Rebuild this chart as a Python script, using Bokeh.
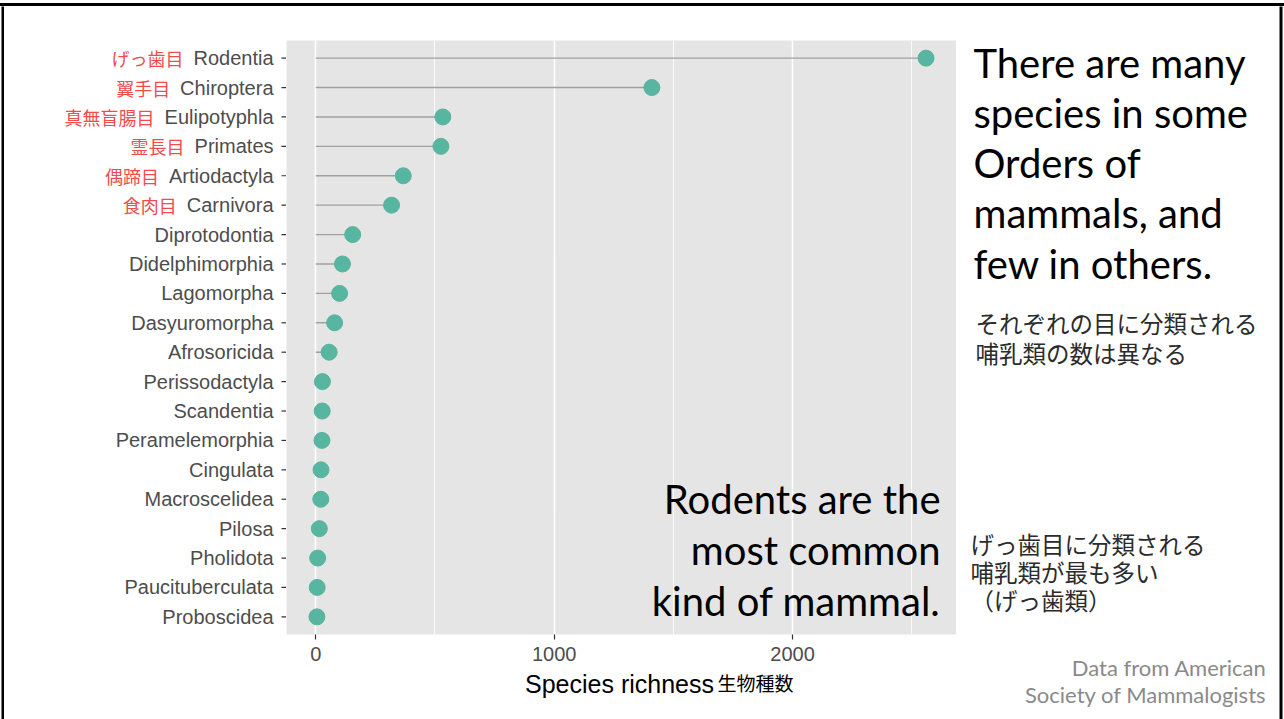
from bokeh.plotting import figure
from bokeh.layouts import row, column
from bokeh.models import ColumnDataSource, FactorRange, Range1d, Label, SingleIntervalTicker, Spacer
from bokeh.core.properties import value
from bokeh.embed import file_html
from bokeh.resources import INLINE

# Mammal orders, most species-rich first
orders = [
    "Rodentia", "Chiroptera", "Eulipotyphla", "Primates", "Artiodactyla",
    "Carnivora", "Diprotodontia", "Didelphimorphia", "Lagomorpha",
    "Dasyuromorpha", "Afrosoricida", "Perissodactyla", "Scandentia",
    "Peramelemorphia", "Cingulata", "Macroscelidea", "Pilosa", "Pholidota",
    "Paucituberculata", "Proboscidea",
]
orders_ja = ["げっ歯目", "翼手目", "真無盲腸目", "霊長目", "偶蹄目", "食肉目"]
species = [2560, 1410, 533, 525, 367, 318, 155, 112, 100, 79, 56,
           28, 27, 26, 22, 21, 15, 8, 6, 5]
x_tick_step = 1000

# page geometry (canvas pixels)
W, H = 1284, 719
TOP = 6                     # top margin holding the top rule
LEFT_RULE = 4               # width of the left rule strip
RIGHT_END = 1279            # where the right rule strip begins
FRAME_L, FRAME_R, FRAME_T, FRAME_B = 286, 956, 40, 634
AXIS_BOTTOM = 670           # where the axis-title strip begins
TICK_OUT, STANDOFF, LABEL_PX = 5, 7, 20
LABEL_RIGHT = FRAME_L - TICK_OUT - 8

GREY_TXT = "#4d4d4d"
DOT = "#58b5a0"
STEM = "#a0a0a0"
PANEL = "#e5e5e5"
JA_RED = "#f24b4b"
NOTE = "#2b2b2b"

# Arial / Liberation Sans advance widths (per 1000 em) for measuring names
ARIAL = {
    " ": 278, "a": 556, "b": 556, "c": 500, "d": 556, "e": 556, "f": 278,
    "g": 556, "h": 556, "i": 222, "j": 222, "k": 500, "l": 222, "m": 833,
    "n": 556, "o": 556, "p": 556, "q": 556, "r": 333, "s": 500, "t": 278,
    "u": 556, "v": 500, "w": 722, "x": 500, "y": 500, "z": 500,
    "A": 667, "C": 722, "D": 722, "E": 667, "L": 556, "M": 833, "P": 667,
    "R": 722, "S": 667,
}


def text_width(s, size):
    return sum(ARIAL.get(ch, 556) for ch in s) / 1000 * size


def blank(width, height, x_range=None, y_range=None, fill="white", **kw):
    f = figure(width=width, height=height, title=None,
               x_range=x_range if x_range is not None else Range1d(0, 1),
               y_range=y_range if y_range is not None else Range1d(0, 1),
               x_axis_type=None, y_axis_type=None, output_backend="svg",
               toolbar_location=None, min_border=0, frame_align=False, **kw)
    f.outline_line_color = None
    f.background_fill_color = fill
    f.border_fill_color = "white"
    return f


def put(f, x, y, text, size, color="black", font="Lato", align="left"):
    f.text(x=[x], y=[y], text=[text], text_font=value(font),
           text_font_size=value(f"{size}px"), text_color=color,
           text_align=align, text_baseline="middle")


lo, hi = min(species), max(species)
pad = 0.05 * (hi - lo)
y_range = FactorRange(factors=orders[::-1], range_padding=0.1,
                      range_padding_units="absolute")
src = ColumnDataSource(dict(order=orders, species=species, zero=[0] * len(orders)))

# ---- main lollipop panel ----
p = figure(
    width=FRAME_R - FRAME_L, height=AXIS_BOTTOM - TOP, title=None,
    x_range=Range1d(lo - pad, hi + pad), y_range=y_range, y_axis_type=None,
    output_backend="svg", toolbar_location=None, frame_align=False,
    min_border_left=0, min_border_right=0,
    min_border_top=FRAME_T - TOP, min_border_bottom=AXIS_BOTTOM - FRAME_B,
)
p.background_fill_color = PANEL
p.border_fill_color = "white"
p.outline_line_color = None
p.xgrid.grid_line_color = "white"
p.xgrid.grid_line_width = 1.6
p.xgrid.minor_grid_line_color = "white"
p.xgrid.minor_grid_line_width = 0.8
p.xaxis.ticker = SingleIntervalTicker(interval=x_tick_step, num_minor_ticks=2)
p.xaxis.axis_line_color = None
p.xaxis.major_tick_line_color = "#333333"
p.xaxis.major_tick_line_width = 1.2
p.xaxis.major_tick_out = TICK_OUT
p.xaxis.major_tick_in = 0
p.xaxis.minor_tick_line_color = None
p.xaxis.major_label_text_font = "Liberation Sans"
p.xaxis.major_label_text_font_size = f"{LABEL_PX}px"
p.xaxis.major_label_text_color = GREY_TXT
p.xaxis.major_label_standoff = STANDOFF

p.segment(x0="zero", y0="order", x1="species", y1="order", source=src,
          line_color=STEM, line_width=1.4)
p.scatter(x="species", y="order", source=src, size=16,
          fill_color=DOT, line_color=DOT)

for i, line in enumerate(["Rodents are the", "most common", "kind of mammal."]):
    p.add_layout(Label(x=940 - FRAME_L, y=FRAME_B - (498 + i * 51),
                       x_units="screen", y_units="screen", text=line,
                       text_font="Lato", text_font_size="40px",
                       text_color="black", text_align="right",
                       text_baseline="middle"))

# ---- category axis: ticks, English names (grey), Japanese names (red) ----
left = blank(FRAME_L - LEFT_RULE, H - TOP, x_range=Range1d(LEFT_RULE, FRAME_L),
             y_range=y_range, min_border_top=FRAME_T - TOP,
             min_border_bottom=H - FRAME_B)
left.segment(x0=[FRAME_L - TICK_OUT] * len(orders), x1=[FRAME_L] * len(orders),
             y0=orders, y1=orders, line_color="#333333", line_width=1.2)
left.text(x=[LABEL_RIGHT] * len(orders), y=orders, text=orders,
          text_font=value("Liberation Sans"), text_font_size=value(f"{LABEL_PX}px"),
          text_color=GREY_TXT, text_align="right", text_baseline="middle")
n_ja = len(orders_ja)
left.text(x=[LABEL_RIGHT - text_width(o, LABEL_PX) - 10 for o in orders[:n_ja]],
          y=orders[:n_ja], text=orders_ja,
          text_font=value("Noto Sans CJK JP"), text_font_size=value("18px"),
          text_color=JA_RED, text_align="right", text_baseline="middle")

# ---- axis title strip ----
bottom = blank(FRAME_R - FRAME_L, H - AXIS_BOTTOM,
               x_range=Range1d(FRAME_L, FRAME_R), y_range=Range1d(H, AXIS_BOTTOM))
put(bottom, 619, 683, "Species richness", 25, font="Liberation Sans", align="center")
put(bottom, 717, 682, "生物種数", 19, font="Noto Sans CJK JP")

# ---- right-hand commentary ----
right = blank(RIGHT_END - FRAME_R, H - TOP,
              x_range=Range1d(FRAME_R, RIGHT_END), y_range=Range1d(H, TOP))
headline = ["There are many", "species in some", "Orders of",
            "mammals, and", "few in others."]
for i, line in enumerate(headline):
    put(right, 973, 62 + i * 50.3, line, 40)
for i, line in enumerate(["それぞれの目に分類される", "哺乳類の数は異なる"]):
    put(right, 975, 322 + i * 30, line, 23.5, color=NOTE, font="Noto Sans CJK JP")
for i, line in enumerate(["げっ歯目に分類される", "哺乳類が最も多い", "（げっ歯類）"]):
    put(right, 970, 543 + i * 28, line, 23.5, color=NOTE, font="Noto Sans CJK JP")
for i, line in enumerate(["Data from American", "Society of Mammalogists"]):
    put(right, 1266, 667 + i * 27, line, 22, color="#8a8a8a", align="right")

# ---- slide frame: side rules as strips, top rule as a shadow above the row ----
left_rule = blank(LEFT_RULE, H - TOP, fill="black", min_border_left=1)
right_rule = blank(W - RIGHT_END, H - TOP, fill="black", min_border_right=2)

body = row(left_rule, left, column(p, bottom, spacing=0), right, right_rule,
           spacing=0, styles={"box-shadow": "0 -3px 0 0 black"})
page = column(Spacer(width=W, height=TOP), body, spacing=0)

open("out.html", "w").write(file_html(page, INLINE))
